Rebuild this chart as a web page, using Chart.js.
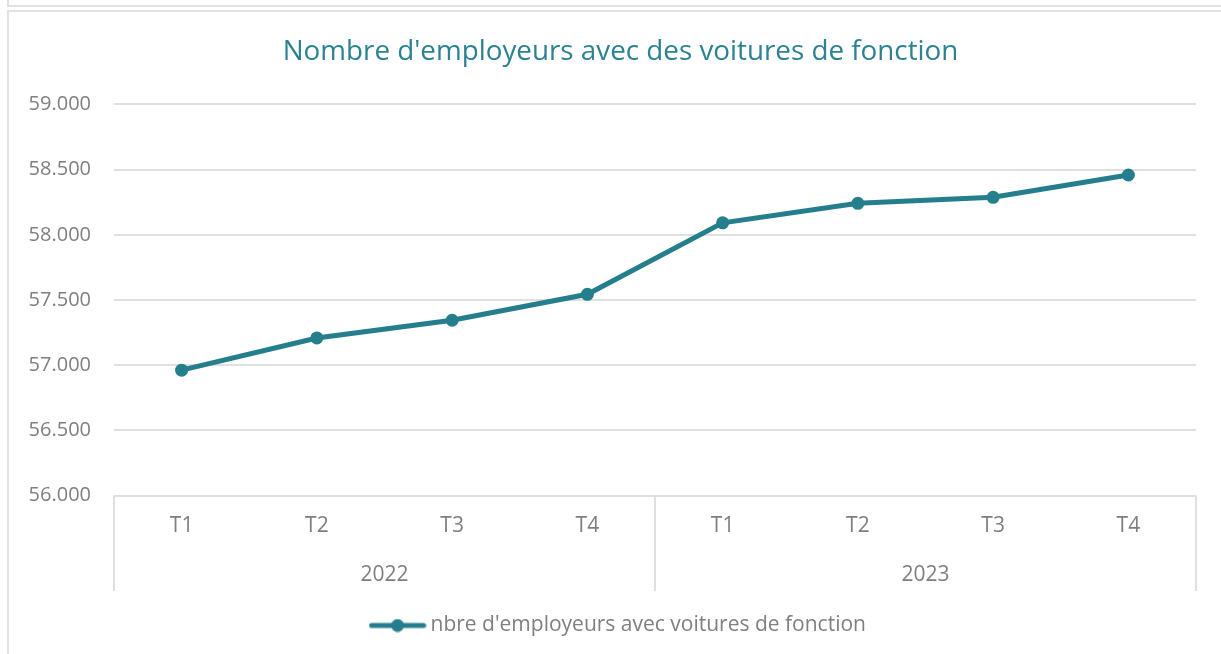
<!DOCTYPE html>
<html>
<head>
<meta charset="utf-8">
<script src="https://cdn.jsdelivr.net/npm/chart.js@4"></script>
<style>
  html, body { margin: 0; padding: 0; background: #fff; overflow: hidden; }
  #topPanel { position: absolute; left: 7px; top: -20px; width: 1300px; height: 23px; border: 2px solid #e2e2e2; }
  #frame { position: absolute; left: 7px; top: 10px; width: 1300px; height: 700px; border: 2px solid #e2e2e2; }
  #wrap { position: absolute; left: 0; top: 0; width: 1221px; height: 654px; }
</style>
</head>
<body>
<div id="topPanel"></div>
<div id="frame"></div>
<div id="wrap"><canvas id="myChart"></canvas></div>
<script>
// data
const quarters = ["T1", "T2", "T3", "T4", "T1", "T2", "T3", "T4"];
const years = ["2022", "2023"];
const employers = [56962, 57209, 57345, 57544, 58092, 58242, 58288, 58459];
const seriesName = "nbre d'employeurs avec voitures de fonction";
const chartTitle = "Nombre d'employeurs avec des voitures de fonction";

const lineColor = "#257e8c";
const gridColor = "#e0e0e0";
const textGray = "#7f7f7f";
const font = "'Open Sans', 'Liberation Sans', sans-serif";

// legend marker: line with a dot, like the office style
const marker = document.createElement("canvas");
marker.width = 58;
marker.height = 14;
(function () {
  const c = marker.getContext("2d");
  c.strokeStyle = lineColor;
  c.lineWidth = 5;
  c.lineCap = "round";
  c.beginPath();
  c.moveTo(3, 7);
  c.lineTo(55, 7);
  c.stroke();
  c.fillStyle = lineColor;
  c.beginPath();
  c.arc(29, 7, 6.5, 0, Math.PI * 2);
  c.fill();
})();

const formatThousands = (v) => String(v).replace(/\B(?=(\d{3})+(?!\d))/g, ".");

// vertical separators between the year groups, under the plot
const groupLines = {
  id: "groupLines",
  afterDraw(chart) {
    const x = chart.scales.x;
    const x2 = chart.scales.x2;
    const ctx = chart.ctx;
    const per = quarters.length / years.length;
    const xs = [x.left];
    for (let i = per; i < quarters.length; i += per) {
      xs.push((x.getPixelForTick(i - 1) + x.getPixelForTick(i)) / 2);
    }
    xs.push(x.right);
    ctx.save();
    ctx.strokeStyle = gridColor;
    ctx.lineWidth = 2;
    xs.forEach((px) => {
      ctx.beginPath();
      ctx.moveTo(px, chart.chartArea.bottom);
      ctx.lineTo(px, x2.bottom);
      ctx.stroke();
    });
    ctx.restore();
  },
};

const config = {
  type: "line",
  data: {
    labels: quarters,
    datasets: [
      {
        label: seriesName,
        data: employers,
        borderColor: lineColor,
        backgroundColor: lineColor,
        borderWidth: 5,
        pointRadius: 6.5,
        pointBorderWidth: 0,
        pointBackgroundColor: lineColor,
        tension: 0,
        fill: false,
      },
    ],
  },
  options: {
    responsive: true,
    maintainAspectRatio: false,
    animation: false,
    layout: { padding: { left: 45, right: 25, top: 0, bottom: 8 } },
    plugins: {
      title: {
        display: true,
        text: chartTitle,
        color: "#2b8392",
        font: { family: font, size: 27.8, weight: "normal" },
        padding: { top: 35.3, bottom: 35.8 },
      },
      legend: {
        position: "bottom",
        labels: {
          color: textGray,
          font: { family: font, size: 21 },
          usePointStyle: true,
          pointStyleWidth: 45,
          padding: 24,
          generateLabels: (chart) => [
            {
              text: seriesName,
              pointStyle: marker,
              fontColor: textGray,
              lineWidth: 0,
              datasetIndex: 0,
            },
          ],
        },
      },
      tooltip: { enabled: false },
    },
    scales: {
      y: {
        min: 56000,
        max: 59000,
        border: { display: false },
        grid: { color: gridColor, lineWidth: 2, drawTicks: false },
        ticks: {
          stepSize: 500,
          padding: 23,
          color: textGray,
          font: { family: font, size: 20 },
          callback: (value) => formatThousands(value),
        },
        afterFit: (scale) => {
          scale.width = 69;
          scale._computeLabelArea = () => undefined; // labels may reach into the left padding
        },
      },
      x: {
        offset: true,
        weight: 0,
        border: { display: false },
        grid: { display: false, drawTicks: false },
        ticks: {
          padding: 18,
          color: textGray,
          font: { family: font, size: 21 },
          maxRotation: 0,
        },
        afterFit: (scale) => { scale.height = 41; },
      },
      x2: {
        type: "category",
        labels: years,
        position: "bottom",
        offset: true,
        weight: 1,
        border: { display: false },
        grid: { display: false, drawTicks: false },
        ticks: {
          padding: 26,
          color: textGray,
          font: { family: font, size: 21 },
          maxRotation: 0,
        },
        afterFit: (scale) => { scale.height = 54.4; },
      },
    },
  },
  plugins: [groupLines],
};

const myChart = new Chart(document.getElementById("myChart"), config);
</script>
</body>
</html>
